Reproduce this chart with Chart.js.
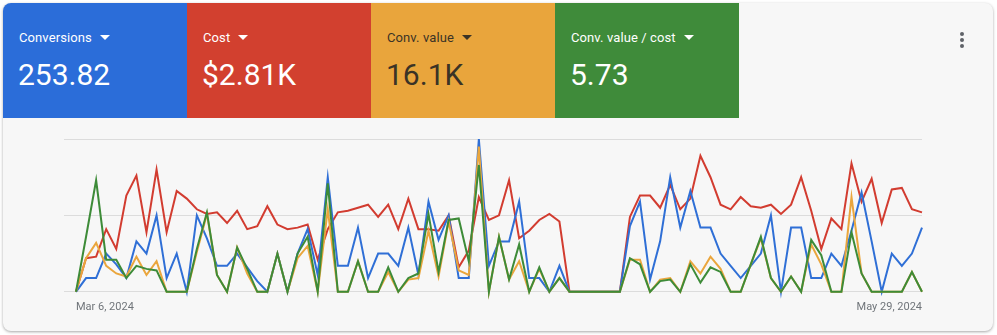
<!DOCTYPE html>
<html>
<head>
<meta charset="utf-8">
<script src="https://cdn.jsdelivr.net/npm/chart.js@4.4.1/dist/chart.umd.min.js"></script>
<style>
  html, body { margin: 0; padding: 0; background: #ffffff; }
  body { width: 997px; height: 335px; position: relative; overflow: hidden; font-family: Roboto, "Noto Sans", Arial, sans-serif; }
  .card {
    position: absolute; left: 3px; top: 3px; width: 990px; height: 328px;
    background: #f7f7f7; border-radius: 8px; overflow: hidden;
    box-shadow: 0 1px 3px rgba(0,0,0,0.35);
  }
  .tile { position: absolute; top: 0; height: 115px; width: 184px; color: #fff; }
  .tile .label { position: absolute; left: 16px; top: 27px; font-size: 13px; letter-spacing: 0.1px; }
  .tile .caret {
    display: inline-block; width: 0; height: 0; margin-left: 8px; vertical-align: 2px;
    border-left: 5px solid transparent; border-right: 5px solid transparent; border-top: 5px solid currentColor;
  }
  .tile .value { position: absolute; left: 15px; top: 54px; font-size: 30px; }
  .kebab { position: absolute; left: 957px; top: 29px; width: 4px; }
  .kebab div { width: 4px; height: 4px; border-radius: 2px; background: #5f6368; margin-bottom: 2px; }
  .chart-box { position: absolute; left: 57px; top: 127px; width: 874px; height: 196px; }
</style>
</head>
<body>
<div class="card">
  <div class="tile" style="left:0;background:#2b6dd9;">
    <div class="label">Conversions<span class="caret"></span></div>
    <div class="value">253.82</div>
  </div>
  <div class="tile" style="left:184px;background:#d2402f;">
    <div class="label">Cost<span class="caret"></span></div>
    <div class="value">$2.81K</div>
  </div>
  <div class="tile" style="left:368px;background:#e9a53c;color:#3b3326;">
    <div class="label">Conv. value<span class="caret"></span></div>
    <div class="value">16.1K</div>
  </div>
  <div class="tile" style="left:552px;background:#3f8b3a;">
    <div class="label">Conv. value / cost<span class="caret"></span></div>
    <div class="value">5.73</div>
  </div>
  <div class="kebab"><div></div><div></div><div></div></div>
</div>
<div class="chart-box"><canvas id="trendsChart"></canvas></div>

<script>
// daily values, scaled to the chart height (0 = baseline, 100 = top gridline)
const conversions = [0, 9, 9, 25, 18, 9, 33, 25, 50, 9, 25, 0, 50, 35, 17, 17, 25, 16, 7, 0,
  25, 0, 25, 41, 11, 75, 17, 17, 42, 9, 25, 25, 17, 42, 11, 59, 34, 50, 9, 9,
  100, 17, 33, 33, 59, 9, 9, 0, 17, 0, 0, 0, 0, 0, 0, 43, 59, 8, 33, 75,
  42, 66, 42, 42, 25, 17, 9, 17, 25, 50, 0, 42, 42, 9, 9, 25, 17, 40, 65, 33,
  0, 25, 17, 25, 42];
const cost = [0, 22, 23, 41, 28, 63, 76, 39, 80, 39, 66, 61, 54, 51, 52, 45, 53, 41, 43, 56,
  44, 41, 42, 44, 21, 41, 52, 53, 55, 57, 49, 57, 41, 61, 41, 41, 40, 50, 16, 27,
  62, 47, 50, 73, 35, 40, 47, 51, 46, 0, 0, 0, 0, 0, 0, 49, 63, 63, 55, 70,
  54, 61, 89, 75, 57, 54, 62, 56, 55, 57, 51, 57, 75, 53, 28, 48, 41, 84, 59, 74,
  45, 67, 68, 54, 52];
const convValue = [0, 22, 32, 17, 12, 10, 23, 11, 20, 0, 0, 0, 26, 51, 11, 0, 29, 12, 0, 0,
  25, 0, 22, 30, 0, 54, 0, 0, 20, 0, 0, 13, 0, 8, 9, 40, 10, 46, 14, 11,
  95, 0, 36, 8, 20, 0, 15, 0, 9, 0, 0, 0, 0, 0, 0, 21, 21, 0, 8, 9,
  0, 20, 12, 23, 15, 0, 0, 18, 35, 9, 0, 10, 0, 31, 18, 0, 0, 62, 12, 0,
  0, 0, 0, 13, 0];
const valuePerCost = [0, 36, 73, 21, 21, 9, 17, 15, 14, 0, 0, 0, 28, 52, 11, 0, 29, 15, 0, 0,
  25, 0, 25, 36, 0, 71, 0, 0, 20, 0, 0, 16, 0, 9, 12, 51, 13, 47, 48, 20,
  83, 0, 36, 8, 31, 0, 16, 0, 9, 0, 0, 0, 0, 0, 0, 22, 18, 0, 7, 8,
  0, 18, 6, 16, 13, 0, 0, 18, 36, 9, 0, 10, 0, 34, 24, 0, 0, 39, 12, 0,
  0, 0, 0, 13, 0];
const tickLabels = ['Mar 6, 2024', 'May 29, 2024'];
const tickIndex = [0, 84];

const days = conversions.map((v, i) => i);

function series(label, values, color, order) {
  return {
    label: label,
    data: values,
    borderColor: color,
    backgroundColor: color,
    borderWidth: 2,
    pointRadius: 0,
    tension: 0,
    clip: false,
    order: order
  };
}

const config = {
  type: 'line',
  data: {
    labels: days,
    datasets: [
      series('Conv. value / cost', valuePerCost, '#3d8b38', 0),
      series('Conv. value', convValue, '#eaa63d', 1),
      series('Conversions', conversions, '#2f6fd6', 2),
      series('Cost', cost, '#d23c30', 3)
    ]
  },
  options: {
    responsive: true,
    maintainAspectRatio: false,
    animation: false,
    layout: { padding: { left: 7, right: 1, top: 12, bottom: 0 } },
    plugins: { legend: { display: false }, tooltip: { enabled: false } },
    scales: {
      x: {
        type: 'linear',
        min: -1.19,
        max: 84,
        grid: { display: false, drawTicks: false },
        border: { display: false },
        afterBuildTicks: (scale) => { scale.ticks = tickIndex.map(v => ({ value: v })); },
        ticks: {
          align: 'inner',
          padding: 9,
          maxRotation: 0,
          color: '#70757a',
          font: { family: 'Roboto', size: 11 },
          callback: (value) => tickLabels[tickIndex.indexOf(value)]
        }
      },
      y: {
        min: 0,
        max: 100,
        ticks: { display: false, stepSize: 50 },
        grid: { color: '#dcdcdc', lineWidth: 1, drawTicks: false },
        border: { display: false }
      }
    }
  }
};

const trendsChart = new Chart(document.getElementById('trendsChart'), config);
</script>
</body>
</html>
